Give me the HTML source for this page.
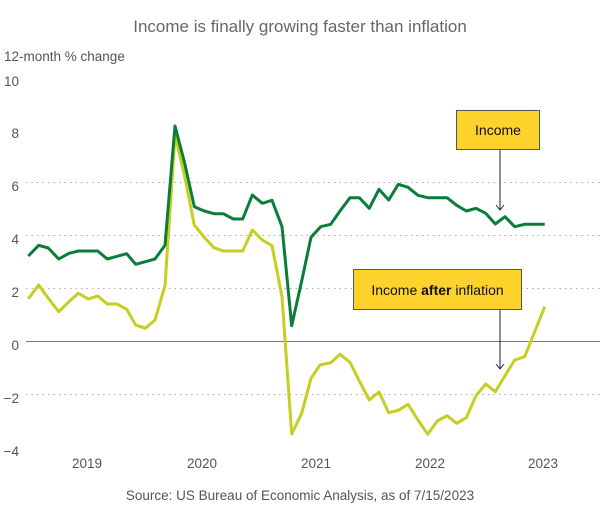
<!DOCTYPE html>
<html><head><meta charset="utf-8"><style>
html,body{margin:0;padding:0;background:#fff;}
svg{display:block;font-family:"Liberation Sans",sans-serif;}
</style></head><body>
<svg width="600" height="516" viewBox="0 0 600 516">
<text x="300" y="32" text-anchor="middle" font-size="17" fill="#666">Income is finally growing faster than inflation</text>
<text x="4" y="61" font-size="13.5" fill="#555">12-month % change</text>
<g font-size="13.5" fill="#555" text-anchor="end">
<text x="19" y="86">10</text><text x="19" y="138">8</text><text x="19" y="191">6</text><text x="19" y="244">4</text><text x="19" y="297">2</text><text x="19" y="350">0</text><text x="19" y="403">−2</text><text x="19" y="456">−4</text>
</g>
<g stroke="#aaa" stroke-width="1" stroke-dasharray="1.5,4">
<line x1="26" y1="182.5" x2="600" y2="182.5"/><line x1="26" y1="235.5" x2="600" y2="235.5"/><line x1="26" y1="288.5" x2="600" y2="288.5"/><line x1="26" y1="394.5" x2="600" y2="394.5"/>
</g>
<line x1="26" y1="341.5" x2="600" y2="341.5" stroke="#777" stroke-width="1"/>
<g font-size="13.5" fill="#555" text-anchor="middle">
<text x="87" y="468">2019</text><text x="202" y="468">2020</text><text x="316" y="468">2021</text><text x="430" y="468">2022</text><text x="543" y="468">2023</text>
</g>
<polyline fill="none" stroke="#c5cf1f" stroke-width="3" stroke-linejoin="round" points="28.3,298.7 38.7,285 48.3,298.3 58.7,311.7 69,301.7 78.3,293.3 88.3,299 97.7,296 107.3,304 117,304 126.7,309.3 135.7,325 145.3,328.3 155,320 165,285.7 175,135 184.7,176.7 194.3,225 204.3,237.3 214,247.7 223.3,251 233.3,251 242.7,251 252.3,230 262.3,240 272,245.7 282,296.7 291.7,434 301.7,413.3 311,378.3 320,365 330.7,362.7 340,354.3 350,362.3 359.3,381 369.3,400 379,392 388.7,412.7 398.3,410.3 408,404.3 418,420 427.7,434.3 437.3,421 447,415.7 456.7,423.3 466.3,417.7 476,395.7 485.7,384 495.3,391.7 505,375.7 514.7,360 524.7,356.7 534.7,331.7 544.7,306.7"/>
<polyline fill="none" stroke="#0a7d3b" stroke-width="3" stroke-linejoin="round" points="28.3,256 38.7,245.3 48.3,248 58.7,259 69,253.3 78.3,251 88.3,251 97.7,251 107.3,259 117,256.3 126.7,253.7 135.7,264.3 145.3,261.7 155,259 165,245.3 175,126 184.7,163.3 194.3,206.7 204.3,211 214,213.7 223.3,213.7 233.3,219 242.7,219 252.3,195 262.3,203.3 272,200.3 282,226.7 291.7,325.7 301.7,281 311,237.3 320.7,226.7 330.7,224.3 340,211 350,197.7 359.3,197.7 369.3,208.3 379,189.3 388.7,200 398.3,184.3 408,187.3 418,195.3 427.7,197.7 437.3,197.7 447,197.7 456.7,205.3 466.3,211 476,208.3 485.7,213.3 495.3,224 505,216.7 514.7,226.7 524.7,224.3 534.7,224.3 544.7,224.3"/>
<g stroke="#222" stroke-width="1" fill="none">
<line x1="500" y1="149" x2="500" y2="210"/><polyline points="496,205 500,210 504,205"/>
<line x1="500" y1="309" x2="500" y2="369"/><polyline points="496,364 500,369 504,364"/>
</g>
<rect x="456.5" y="110.5" width="83" height="39" fill="#fdd22b" stroke="#555" stroke-width="1"/>
<text x="498" y="135" text-anchor="middle" font-size="14" fill="#111">Income</text>
<rect x="353.5" y="269.5" width="168" height="40" fill="#fdd22b" stroke="#555" stroke-width="1"/>
<text x="437.5" y="295" text-anchor="middle" font-size="14" fill="#111">Income <tspan font-weight="bold">after</tspan> inflation</text>
<text x="300" y="500" text-anchor="middle" font-size="13.5" fill="#555">Source: US Bureau of Economic Analysis, as of 7/15/2023</text>
</svg>
</body></html>
